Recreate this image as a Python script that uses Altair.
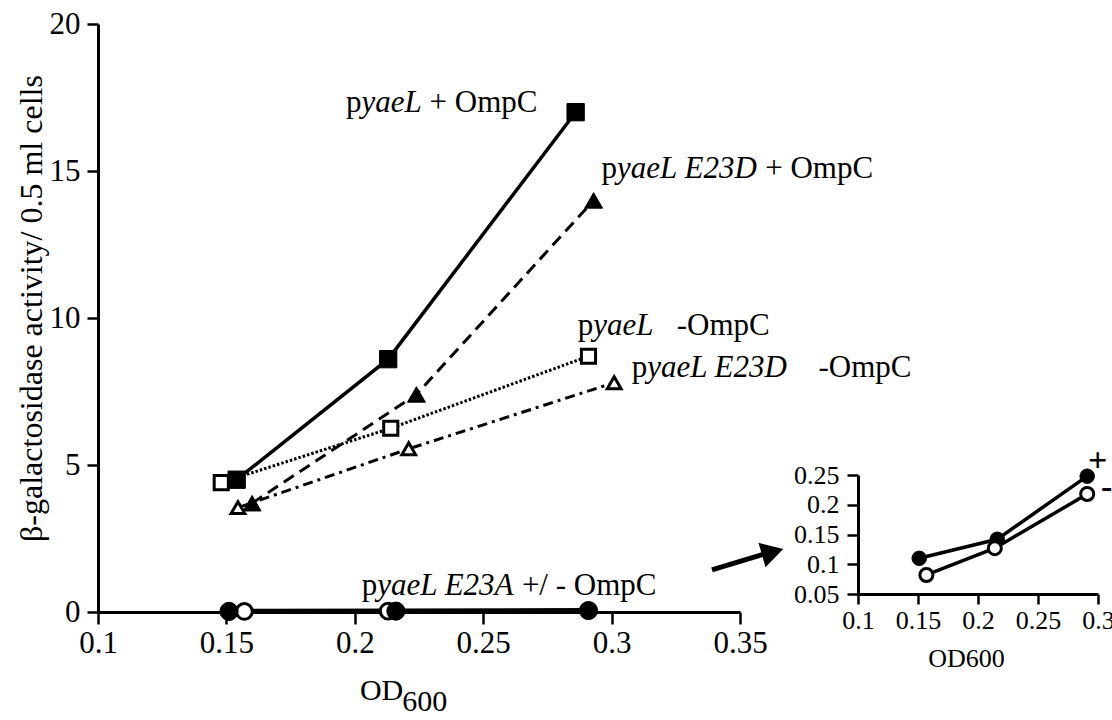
import altair as alt
import pandas as pd

FONT = "Liberation Serif"

# ---------------- data ----------------
od_yael_ompc = [0.154, 0.213, 0.286]
act_yael_ompc = [4.5, 8.6, 17.0]
od_e23d_ompc = [0.160, 0.224, 0.293]
act_e23d_ompc = [3.7, 7.4, 14.0]
od_yael_no = [0.148, 0.214, 0.291]
act_yael_no = [4.4, 6.25, 8.7]
od_e23d_no = [0.1545, 0.221, 0.301]
act_e23d_no = [3.55, 5.55, 7.8]
# E23A as drawn on the main panel (sits on the zero line)
od_e23a_ompc_main = [0.151, 0.216, 0.291]
act_e23a_ompc_main = [0.02, 0.03, 0.05]
od_e23a_no_main = [0.157, 0.213]
act_e23a_no_main = [0.02, 0.03]
# E23A as drawn on the inset
od_e23a_ompc = [0.151, 0.216, 0.291]
act_e23a_ompc = [0.11, 0.142, 0.248]
od_e23a_no = [0.157, 0.214, 0.291]
act_e23a_no = [0.082, 0.127, 0.218]

main_x_ticks = [0.1, 0.15, 0.2, 0.25, 0.3, 0.35]
main_y_ticks = [0, 5, 10, 15, 20]
inset_x_ticks = [0.1, 0.15, 0.2, 0.25, 0.3]
inset_y_ticks = [0.05, 0.1, 0.15, 0.2, 0.25]

y_title = "β-galactosidase activity/ 0.5 ml cells"

# label anchors (data units of main plot) and their upright/italic pieces
label_specs = [
    (0.1966, 17.0, [("p", False), ("yaeL", True), (" + OmpC", False)]),
    (0.2961, 14.76, [("p", False), ("yaeL E23D", True), (" + OmpC", False)]),
    (0.2868, 9.42, [("p", False), ("yaeL", True), ("   -OmpC", False)]),
    (0.3078, 7.99, [("p", False), ("yaeL E23D", True), ("    -OmpC", False)]),
    (0.2027, 0.58, [("p", False), ("yaeL E23A", True), (" +/ - OmpC", False)]),
]
xtitle_parts = [(0.202, -2.99, "OD"), (0.2185, -3.36, "600")]
arrow_x = [0.3391, 0.3590]
arrow_y = [1.43, 1.96]
arrow_head = (0.3627, 2.04)
inset_signs = [(0.2998, 0.274, "+"), (0.3072, 0.228, "-")]

# ---------------- geometry ----------------
W, H = 1010, 588
MAIN_W = 642
PX_PER_X = MAIN_W / 0.25
LABEL_FS = 31

xs_main = alt.Scale(domain=[0.1, 0.35], range=[0, MAIN_W], nice=False, zero=False)
ys_main = alt.Scale(domain=[0, 20], range=[H, 0], nice=False, zero=False)
xs_in = alt.Scale(domain=[0.1, 0.3], range=[760, 1000], nice=False, zero=False)
ys_in = alt.Scale(domain=[0.05, 0.25], range=[570, 451], nice=False, zero=False)

common_axis = dict(domainColor="black", tickColor="black", labelColor="black",
                   grid=False, labelFont=FONT, labelFontWeight="normal")

ax_x_main = alt.Axis(values=main_x_ticks, format="~g", title=None, domainWidth=3,
                     tickWidth=2.5, tickSize=12, labelFontSize=31, labelPadding=4,
                     labelFlush=False, labelOverlap=False, **common_axis)
ax_y_main = alt.Axis(values=main_y_ticks, title=y_title, domainWidth=3, tickWidth=2.5,
                     tickSize=11, labelFontSize=31, labelPadding=7, labelFlush=False,
                     labelOverlap=False, titleFont=FONT, titleFontSize=32,
                     titleFontWeight="normal", titleColor="black", titleX=-57,
                     titleY=284, titleAngle=270, titleAlign="center",
                     titleBaseline="alphabetic", **common_axis)
ax_x_in = alt.Axis(values=inset_x_ticks, format="~g", orient="bottom", offset=-18,
                   title="OD600", titleFont=FONT, titleFontSize=26,
                   titleFontWeight="normal", titleColor="black", titlePadding=12,
                   titleX=868, domainWidth=3, tickWidth=2.5, tickSize=10,
                   labelFontSize=26, labelPadding=3, labelFlush=False,
                   labelOverlap=False, **common_axis)
ax_y_in = alt.Axis(values=inset_y_ticks, format="~g", orient="left", offset=-760,
                   title=None, domainWidth=3, tickWidth=2.5, tickSize=11,
                   labelFontSize=26, labelPadding=8, labelFlush=False,
                   labelOverlap=False, **common_axis)


def enc_main(ch):
    return ch.encode(x=alt.X("x:Q", scale=xs_main, axis=ax_x_main),
                     y=alt.Y("y:Q", scale=ys_main, axis=ax_y_main))


def enc_in(ch):
    return ch.encode(x=alt.X("x:Q", scale=xs_in, axis=ax_x_in),
                     y=alt.Y("y:Q", scale=ys_in, axis=ax_y_in))


series = [
    (od_yael_ompc, act_yael_ompc, dict(shape="square", fill="black", size=300, sw=1), dict(strokeWidth=3.5)),
    (od_e23d_ompc, act_e23d_ompc, dict(shape="triangle-up", fill="black", size=320, sw=1), dict(strokeWidth=3, strokeDash=[12, 7])),
    (od_yael_no, act_yael_no, dict(shape="square", fill="white", size=200, sw=3), dict(strokeWidth=3, strokeDash=[2.5, 2])),
    (od_e23d_no, act_e23d_no, dict(shape="triangle-up", fill="white", size=190, sw=3), dict(strokeWidth=3, strokeDash=[10, 5, 3, 5])),
    (od_e23a_no_main, act_e23a_no_main, dict(shape="circle", fill="white", size=250, sw=3), dict(strokeWidth=2, strokeDash=[6, 3])),
    (od_e23a_ompc_main, act_e23a_ompc_main, dict(shape="circle", fill="black", size=330, sw=1), dict(strokeWidth=5)),
]

main_lines, main_pts = [], []
for xs, ys, pst, lst in series:
    df = pd.DataFrame({"x": xs, "y": ys})
    main_lines.append(enc_main(alt.Chart(df).mark_line(color="black", **lst)))
    main_pts.append(enc_main(alt.Chart(df).mark_point(
        shape=pst["shape"], filled=True, fill=pst["fill"], stroke="black",
        strokeWidth=pst["sw"], size=pst["size"], opacity=1)))

# label pieces
W_UP = {" ": 250, "+": 564, "-": 333, "/": 278, "O": 722, "m": 778, "p": 500, "C": 667}
W_IT = {" ": 250, "y": 444, "a": 500, "e": 444, "L": 556, "E": 611, "2": 500, "3": 500,
        "D": 722, "A": 611}


def seg_w(s, it):
    tab = W_IT if it else W_UP
    return sum(tab.get(c, 500) for c in s) * LABEL_FS / 1000


rows = []
for x0, y0, parts in label_specs:
    off = 0.0
    for text, it in parts:
        lead = len(text) - len(text.lstrip(" "))
        o = off + lead * 0.25 * LABEL_FS
        rows.append({"x": x0 + o / PX_PER_X, "y": y0, "text": text.strip(), "it": it})
        off += seg_w(text, it)
lab_df = pd.DataFrame(rows)
lab_up = enc_main(alt.Chart(lab_df).transform_filter("!datum.it").mark_text(
    font=FONT, fontSize=LABEL_FS, align="left", baseline="alphabetic", color="black")).encode(text="text:N")
lab_it = enc_main(alt.Chart(lab_df).transform_filter("datum.it").mark_text(
    font=FONT, fontSize=LABEL_FS, fontStyle="italic", align="left", baseline="alphabetic",
    color="black")).encode(text="text:N")

xt_df = pd.DataFrame([{"x": a, "y": b, "text": t} for a, b, t in xtitle_parts])
xtitle = enc_main(alt.Chart(xt_df).mark_text(font=FONT, fontSize=30, align="left",
                                              baseline="alphabetic", color="black")).encode(text="text:N")

arr_df = pd.DataFrame({"x": arrow_x, "y": arrow_y})
arrow_line = enc_main(alt.Chart(arr_df).mark_line(color="black", strokeWidth=5))
head_df = pd.DataFrame({"x": [arrow_head[0]], "y": [arrow_head[1]]})
arrow_tip = enc_main(alt.Chart(head_df).mark_point(shape="triangle-right", filled=True,
                                                   fill="black", size=650, angle=344, opacity=1))

main = alt.layer(*main_lines, *main_pts, lab_up, lab_it, xtitle, arrow_line, arrow_tip)

# inset
in_layers = []
in_pts = []
for xs, ys, fill, size, sw in [(od_e23a_ompc, act_e23a_ompc, "black", 210, 1),
                              (od_e23a_no, act_e23a_no, "white", 170, 3)]:
    df = pd.DataFrame({"x": xs, "y": ys})
    in_layers.append(enc_in(alt.Chart(df).mark_line(color="black", strokeWidth=3.5)))
    in_pts.append(enc_in(alt.Chart(df).mark_point(shape="circle", filled=True, fill=fill,
                                                  stroke="black", strokeWidth=sw, size=size,
                                                  opacity=1)))
sign_df = pd.DataFrame([{"x": a, "y": b, "text": t} for a, b, t in inset_signs])
signs = enc_in(alt.Chart(sign_df).mark_text(font=FONT, fontSize=34, fontWeight="bold",
                                            align="center", baseline="middle",
                                            color="black")).encode(text="text:N")
inset = alt.layer(*in_layers, *in_pts, signs)

chart = alt.layer(main, inset).resolve_scale(x="independent", y="independent").properties(
    width=W, height=H,
    autosize=alt.AutoSizeParams(type="none"),
    padding={"left": 98, "top": 24, "right": 4, "bottom": 108},
    background="white",
).configure_view(stroke=None)

chart.save("out.html", embed_options={"renderer": "svg", "actions": False})
